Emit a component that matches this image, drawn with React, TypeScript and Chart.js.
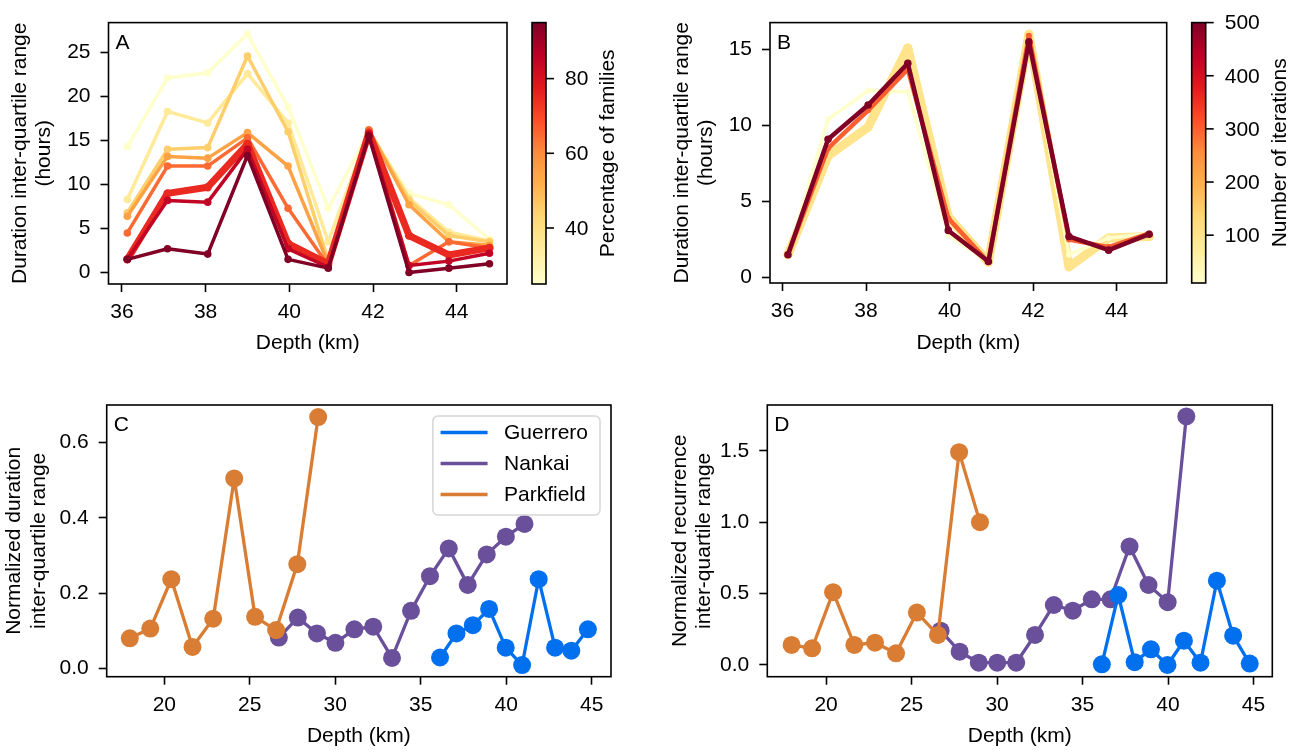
import React, { useEffect, useRef } from "react";
import { Chart, registerables } from "chart.js";

Chart.register(...registerables);

const FONT_FAMILY = "'Liberation Sans', Arial, Helvetica, sans-serif";
const FONT_SIZE = 21;

// ---------------- data ----------------
const depthKm = [36.13, 37.09, 38.05, 39.0, 39.97, 40.93, 41.9, 42.86, 43.81, 44.78];
const depthTicksAB = [36, 38, 40, 42, 44];
const depthTicksCD = [20, 25, 30, 35, 40, 45];

// Panel A: duration IQR (hours) for increasing percentage of families
const familyPercent = [25, 35, 45, 55, 65, 75, 85, 95];
const iqrPct25 = [14.3, 22.1, 22.7, 27.1, 18.8, 7.3, 16.0, 9.0, 7.7, 3.8];
const iqrPct35 = [8.3, 18.3, 17.0, 22.6, 17.0, 3.5, 16.1, 8.5, 4.6, 3.6];
const iqrPct45 = [6.8, 14.0, 14.2, 24.6, 16.0, 1.3, 16.2, 8.2, 4.2, 3.5];
const iqrPct55 = [6.4, 13.2, 13.0, 15.9, 12.1, 1.0, 16.2, 7.7, 3.5, 3.1];
const iqrPct65 = [4.5, 12.1, 12.1, 15.3, 7.3, 0.8, 16.2, 0.8, 3.5, 2.8];
const iqrPct75 = [1.5, 9.0, 9.7, 14.6, 3.3, 1.0, 15.9, 4.2, 2.0, 2.8];
const iqrPct85 = [1.5, 8.2, 8.0, 14.0, 2.7, 0.6, 15.7, 0.8, 1.3, 2.2];
const iqrPct95 = [1.5, 2.7, 2.1, 13.3, 1.5, 0.5, 15.5, 0.0, 0.5, 1.0];
const percentSeries = [iqrPct25, iqrPct35, iqrPct45, iqrPct55, iqrPct65, iqrPct75, iqrPct85, iqrPct95];
const percentTicks = [40, 60, 80];
const percentRange = [25, 95];

// Panel B: duration IQR (hours) for number of iterations
const iterationCounts = [10, 100, 300, 500];
const iqrIter10 = [1.5, 10.4, 12.3, 12.2, 2.8, 1.0, 15.8, 1.5, 2.6, 2.9];
const iqrIter100 = [1.5, 8.0, 9.9, 15.1, 4.0, 1.0, 16.0, 0.7, 2.6, 2.7];
const iqrIter300 = [1.5, 8.5, 11.0, 13.7, 3.9, 1.0, 15.9, 2.5, 2.0, 2.9];
const iqrIter500 = [1.5, 9.1, 11.35, 14.1, 3.1, 1.05, 15.5, 2.7, 1.8, 2.85];
const iterationSeries = [iqrIter10, iqrIter100, iqrIter300, iqrIter500];
const iterationTicks = [100, 200, 300, 400, 500];
const iterationRange = [10, 500];

// Panels C & D: regions
const regionNames = ["Guerrero", "Nankai", "Parkfield"];
const guerreroDepth = depthKm;
const nankaiDepth = [26.7, 27.81, 28.93, 30.01, 31.12, 32.22, 33.32, 34.43, 35.54, 36.64, 37.75, 38.86, 39.98, 41.07];
const parkfieldDepth = [17.98, 19.18, 20.41, 21.65, 22.86, 24.09, 25.31, 26.54, 27.78, 29.0];

const guerreroDurNorm = [0.029, 0.093, 0.115, 0.158, 0.055, 0.009, 0.237, 0.055, 0.047, 0.104];
const nankaiDurNorm = [0.082, 0.135, 0.093, 0.068, 0.104, 0.111, 0.028, 0.153, 0.245, 0.319, 0.222, 0.303, 0.35, 0.384];
const parkfieldDurNorm = [0.08, 0.106, 0.237, 0.057, 0.132, 0.505, 0.137, 0.102, 0.277, 0.668];

const guerreroRecNorm = [0.005, 0.49, 0.02, 0.11, 0.0, 0.17, 0.016, 0.59, 0.205, 0.01];
const nankaiRecNorm = [0.24, 0.093, 0.016, 0.016, 0.016, 0.21, 0.42, 0.38, 0.46, 0.46, 0.83, 0.56, 0.44, 1.74];
const parkfieldRecNorm = [0.14, 0.117, 0.51, 0.14, 0.156, 0.082, 0.367, 0.21, 1.49, 1.0];

const durTicksC = [0, 0.2, 0.4, 0.6];
const recTicksD = [0, 0.5, 1.0, 1.5];

// ---------------- styles ----------------
const percentLineWidths = [3.5, 3.5, 3.5, 3.5, 3.5, 7, 3.5, 3.5];
const percentMarkerRadius = [3.8, 3.8, 3.8, 3.8, 3.8, 4.2, 3.8, 3.8];
const iterationLineWidths = [3.5, 9, 4.5, 4.5];
const iterationMarkerRadius = [3, 4.5, 3, 3.8];
const iterationDrawOrder = [2, 3, 1, 0];
const regionColors = ["#0070ee", "#6a509b", "#d87d33"];
const regionDrawOrder = [1, 2, 0];

const YLORRD = ["#ffffcc", "#ffeda0", "#fed976", "#feb24c", "#fd8d3c", "#fc4e2a", "#e31a1c", "#bd0026", "#800026"];

function hexToRgb(h: string) {
  return [parseInt(h.slice(1, 3), 16), parseInt(h.slice(3, 5), 16), parseInt(h.slice(5, 7), 16)];
}
function ylOrRd(t: number) {
  const tt = Math.min(1, Math.max(0, t));
  const s = tt * (YLORRD.length - 1);
  const i = Math.min(Math.floor(s), YLORRD.length - 2);
  const f = s - i;
  const a = hexToRgb(YLORRD[i]);
  const b = hexToRgb(YLORRD[i + 1]);
  const c = a.map((v, k) => Math.round(v + (b[k] - v) * f));
  return `rgb(${c[0]},${c[1]},${c[2]})`;
}

const FONT_STR = `${FONT_SIZE}px ${FONT_FAMILY}`;

const decorPlugin = {
  id: "decor",
  afterDatasetsDraw(chart: any, _args: any, opts: any) {
    const { ctx, chartArea: ca } = chart;
    ctx.save();
    ctx.strokeStyle = "#000";
    ctx.lineWidth = 1.6;
    ctx.strokeRect(ca.left, ca.top, ca.right - ca.left, ca.bottom - ca.top);

    ctx.fillStyle = "#000";
    ctx.font = FONT_STR;
    ctx.textAlign = "left";
    ctx.textBaseline = "alphabetic";
    if (opts.letter) ctx.fillText(opts.letter, ca.left + 7, ca.top + 26);

    const cb = opts.colorbar;
    if (cb) {
      const x0 = ca.right + 25;
      const w = 14;
      const top = ca.top;
      const bot = ca.bottom;
      const g = ctx.createLinearGradient(0, bot, 0, top);
      YLORRD.forEach((c, i) => g.addColorStop(i / (YLORRD.length - 1), c));
      ctx.fillStyle = g;
      ctx.fillRect(x0, top, w, bot - top);
      ctx.strokeStyle = "#000";
      ctx.lineWidth = 1.6;
      ctx.strokeRect(x0, top, w, bot - top);
      ctx.fillStyle = "#000";
      ctx.font = FONT_STR;
      ctx.textAlign = "left";
      ctx.textBaseline = "middle";
      let maxW = 0;
      cb.ticks.forEach((v: number) => {
        const y = bot - ((v - cb.min) / (cb.max - cb.min)) * (bot - top);
        ctx.beginPath();
        ctx.moveTo(x0 + w, y);
        ctx.lineTo(x0 + w + 8, y);
        ctx.stroke();
        const s = String(v);
        ctx.fillText(s, x0 + w + 19, y + 1);
        maxW = Math.max(maxW, ctx.measureText(s).width);
      });
      const cx = x0 + w + 19 + maxW + 20;
      ctx.save();
      ctx.translate(cx, (top + bot) / 2);
      ctx.rotate(-Math.PI / 2);
      ctx.textAlign = "center";
      ctx.textBaseline = "middle";
      ctx.fillText(cb.label, 0, 0);
      ctx.restore();
    }

    if (opts.legend) {
      const ds = chart.data.datasets;
      ctx.font = FONT_STR;
      const textW = Math.max(...ds.map((d: any) => ctx.measureText(d.label).width));
      const padL = 7.7, lineLen = 47, gap = 16.4, padR = 12, rowH = 31, padT = 16.5, padB = 20.5;
      const w = padL + lineLen + gap + textW + padR;
      const h = padT + padB + rowH * (ds.length - 1);
      const x1 = ca.right - 11;
      const x0 = x1 - w;
      const y0 = ca.top + 11;
      ctx.beginPath();
      ctx.roundRect(x0, y0, w, h, 5);
      ctx.fillStyle = "rgba(255,255,255,0.8)";
      ctx.fill();
      ctx.strokeStyle = "#d6d6d6";
      ctx.lineWidth = 1.5;
      ctx.stroke();
      ds.forEach((d: any, i: number) => {
        const y = y0 + padT + i * rowH;
        ctx.beginPath();
        ctx.strokeStyle = d.borderColor;
        ctx.lineWidth = 3.5;
        ctx.moveTo(x0 + padL, y);
        ctx.lineTo(x0 + padL + lineLen, y);
        ctx.stroke();
        ctx.fillStyle = "#000";
        ctx.textAlign = "left";
        ctx.textBaseline = "middle";
        ctx.fillText(d.label, x0 + padL + lineLen + gap, y + 1);
      });
    }
    ctx.restore();
  },
};

type Spec = {
  left: number;
  top: number;
  width: number;
  height: number;
  yAxisWidth: number;
  xAxisHeight: number;
  padTop: number;
  padRight: number;
  xRange: number[];
  yRange: number[];
  xTicks: number[];
  yTicks: number[];
  yDecimals: number;
  yTitle: string[];
  yTitlePad: number;
  xTitlePad: number;
  datasets: any[];
  letter: string;
  colorbar?: any;
  legend?: boolean;
};

function buildConfig(s: Spec): any {
  const tickFont = { size: FONT_SIZE, family: FONT_FAMILY, lineHeight: 1.2 };
  const titleFont = { size: FONT_SIZE, family: FONT_FAMILY, lineHeight: 1.15 };
  const grid = {
    display: true,
    drawOnChartArea: false,
    drawTicks: true,
    tickLength: 8,
    tickWidth: 1.6,
    tickColor: "#000",
    color: "#000",
  };
  return {
    type: "line",
    data: { datasets: s.datasets },
    options: {
      animation: false,
      responsive: false,
      devicePixelRatio: 1,
      events: [],
      layout: { padding: { left: 0, top: s.padTop, right: s.padRight, bottom: 0 } },
      plugins: {
        legend: { display: false },
        tooltip: { enabled: false },
        decor: { letter: s.letter, colorbar: s.colorbar, legend: s.legend },
      },
      scales: {
        x: {
          type: "linear",
          min: s.xRange[0],
          max: s.xRange[1],
          afterBuildTicks: (ax: any) => {
            ax.ticks = s.xTicks.map((v) => ({ value: v }));
          },
          afterFit: (ax: any) => {
            ax.height = s.xAxisHeight;
          },
          ticks: {
            autoSkip: false,
            maxRotation: 0,
            minRotation: 0,
            color: "#000",
            font: tickFont,
            padding: 7.5,
            callback: (v: number) => String(v),
          },
          grid,
          border: { display: false },
          title: {
            display: true,
            text: "Depth (km)",
            color: "#000",
            font: titleFont,
            padding: { top: 0, bottom: s.xTitlePad },
          },
        },
        y: {
          type: "linear",
          min: s.yRange[0],
          max: s.yRange[1],
          afterBuildTicks: (ax: any) => {
            ax.ticks = s.yTicks.map((v) => ({ value: v }));
          },
          afterFit: (ax: any) => {
            ax.width = s.yAxisWidth;
          },
          ticks: {
            autoSkip: false,
            color: "#000",
            font: tickFont,
            padding: 10,
            callback: (v: number) => v.toFixed(s.yDecimals),
          },
          grid,
          border: { display: false },
          title: {
            display: true,
            text: s.yTitle,
            color: "#000",
            font: titleFont,
            padding: { top: s.yTitlePad, bottom: 0 },
          },
        },
      },
    },
    plugins: [decorPlugin],
  };
}

function lineDataset(label: string, xs: number[], ys: number[], color: string, width: number, radius: number, order: number) {
  return {
    label,
    data: xs.map((x, j) => ({ x, y: ys[j] })),
    borderColor: color,
    backgroundColor: color,
    pointBackgroundColor: color,
    pointBorderWidth: 0,
    pointRadius: radius,
    pointHoverRadius: radius,
    borderWidth: width,
    borderJoinStyle: "round",
    borderCapStyle: "round",
    tension: 0,
    fill: false,
    order,
  };
}

const datasetsA = percentSeries.map((ys, i) =>
  lineDataset(
    `${familyPercent[i]}%`,
    depthKm,
    ys,
    ylOrRd((familyPercent[i] - percentRange[0]) / (percentRange[1] - percentRange[0])),
    percentLineWidths[i],
    percentMarkerRadius[i],
    percentSeries.length - i
  )
);

const datasetsB = iterationSeries.map((ys, i) =>
  lineDataset(
    `${iterationCounts[i]}`,
    depthKm,
    ys,
    ylOrRd((iterationCounts[i] - iterationRange[0]) / (iterationRange[1] - iterationRange[0])),
    iterationLineWidths[i],
    iterationMarkerRadius[i],
    iterationDrawOrder[i]
  )
);

const regionDepths = [guerreroDepth, nankaiDepth, parkfieldDepth];
const durSeries = [guerreroDurNorm, nankaiDurNorm, parkfieldDurNorm];
const recSeries = [guerreroRecNorm, nankaiRecNorm, parkfieldRecNorm];

const datasetsC = durSeries.map((ys, i) =>
  lineDataset(regionNames[i], regionDepths[i], ys, regionColors[i], 3.3, 9, regionDrawOrder[i])
);
const datasetsD = recSeries.map((ys, i) =>
  lineDataset(regionNames[i], regionDepths[i], ys, regionColors[i], 3.3, 9, regionDrawOrder[i])
);

const specs: Spec[] = [
  {
    left: 0, top: 0, width: 650, height: 372,
    yAxisWidth: 108.5, xAxisHeight: 88, padTop: 12, padRight: 143,
    xRange: [35.68, 45.2], yRange: [-1.3, 28.4],
    xTicks: depthTicksAB, yTicks: [0, 5, 10, 15, 20, 25], yDecimals: 0,
    yTitle: ["Duration inter-quartile range", "(hours)"], yTitlePad: 8.4, xTitlePad: 17.2,
    datasets: datasetsA, letter: "A",
    colorbar: { min: percentRange[0], max: percentRange[1], ticks: percentTicks, label: "Percentage of families" },
  },
  {
    left: 650, top: 0, width: 655, height: 372,
    yAxisWidth: 120, xAxisHeight: 89, padTop: 12, padRight: 138.3,
    xRange: [35.7, 45.2], yRange: [-0.36, 16.77],
    xTicks: depthTicksAB, yTicks: [0, 5, 10, 15], yDecimals: 0,
    yTitle: ["Duration inter-quartile range", "(hours)"], yTitlePad: 19.9, xTitlePad: 17.2,
    datasets: datasetsB, letter: "B",
    colorbar: { min: iterationRange[0], max: iterationRange[1], ticks: iterationTicks, label: "Number of iterations" },
  },
  {
    left: 0, top: 380, width: 650, height: 372,
    yAxisWidth: 106.7, xAxisHeight: 75.3, padTop: 25, padRight: 39,
    xRange: [16.63, 46.13], yRange: [-0.022, 0.7],
    xTicks: depthTicksCD, yTicks: durTicksC, yDecimals: 1,
    yTitle: ["Normalized duration", "inter-quartile range"], yTitlePad: 2.5, xTitlePad: 3.9,
    datasets: datasetsC, letter: "C", legend: true,
  },
  {
    left: 650, top: 380, width: 655, height: 372,
    yAxisWidth: 117.3, xAxisHeight: 75.3, padTop: 25, padRight: 32.7,
    xRange: [16.56, 46.1], yRange: [-0.082, 1.82],
    xTicks: depthTicksCD, yTicks: recTicksD, yDecimals: 1,
    yTitle: ["Normalized recurrence", "inter-quartile range"], yTitlePad: 17.9, xTitlePad: 3.9,
    datasets: datasetsD, letter: "D",
  },
];

function Panel({ spec }: { spec: Spec }) {
  const ref = useRef<HTMLCanvasElement | null>(null);
  useEffect(() => {
    if (!ref.current) return;
    const chart = new Chart(ref.current, buildConfig(spec));
    return () => chart.destroy();
  }, [spec]);
  return (
    <canvas
      ref={ref}
      width={spec.width}
      height={spec.height}
      style={{ position: "absolute", left: spec.left, top: spec.top, width: spec.width, height: spec.height }}
    />
  );
}

export default function App() {
  return (
    <div style={{ position: "fixed", left: 0, top: 0, width: 1305, height: 752, background: "#fff", overflow: "hidden" }}>
      {specs.map((s, i) => (
        <Panel key={i} spec={s} />
      ))}
    </div>
  );
}
